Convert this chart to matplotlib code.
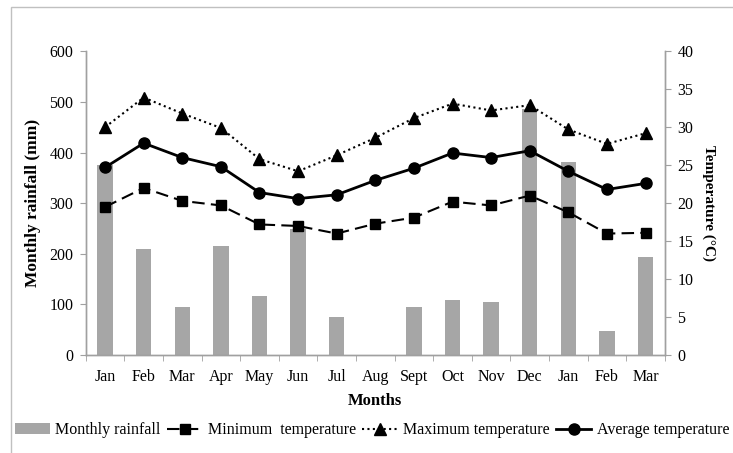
import numpy as np
import matplotlib
matplotlib.use("Agg")
import matplotlib.pyplot as plt
from matplotlib.patches import Rectangle

months = ["Jan", "Feb", "Mar", "Apr", "May", "Jun", "Jul", "Aug",
          "Sept", "Oct", "Nov", "Dec", "Jan", "Feb", "Mar"]
rainfall = [376, 209, 95, 216, 116, 250, 75, 0, 95, 109, 105, 485, 382, 47, 193]
t_min = [19.5, 22.0, 20.3, 19.7, 17.2, 17.0, 16.0, 17.3, 18.1, 20.2, 19.7, 21.0, 18.8, 16.0, 16.1]
t_max = [30.0, 33.9, 31.8, 29.9, 25.8, 24.2, 26.3, 28.6, 31.2, 33.1, 32.2, 32.9, 29.7, 27.8, 29.2]
t_avg = [24.7, 27.9, 26.0, 24.8, 21.4, 20.6, 21.1, 23.0, 24.6, 26.6, 26.0, 26.9, 24.2, 21.8, 22.6]

plt.rcParams["font.family"] = ["Liberation Serif", "DejaVu Serif"]

GRAY = "#a6a6a6"
SPINE = "#a0a0a0"

fig = plt.figure(figsize=(7.33, 4.53), dpi=100)
ax = fig.add_axes([0.117, 0.216, 0.790, 0.671])
ax2 = ax.twinx()

x = np.arange(len(months))
bars = ax.bar(x, rainfall, width=0.4, color=GRAY, label="Monthly rainfall", zorder=1)

l_min, = ax2.plot(x, t_min, color="black", lw=1.5, dashes=(6, 3), marker="s",
                  markersize=7.5, label="Minimum  temperature")
l_max, = ax2.plot(x, t_max, color="black", lw=1.5, linestyle=(0, (1, 1.6)), marker="^",
                  markersize=8, label="Maximum temperature")
l_avg, = ax2.plot(x, t_avg, color="black", lw=2, marker="o",
                  markersize=8, label="Average temperature")

ax.set_xlim(-0.5, len(months) - 0.5)
ax.set_ylim(0, 600)
ax.set_yticks(np.arange(0, 601, 100))
ax2.set_ylim(0, 40)
ax2.set_yticks(np.arange(0, 41, 5))

ax.set_xticks(x)
ax.set_xticklabels(months)
ax.set_xticks(np.arange(-0.5, len(months), 1), minor=True)
ax.tick_params(axis="x", which="major", length=0, pad=10, labelsize=11.5)
ax.tick_params(axis="x", which="minor", length=4, color=SPINE, direction="out")
ax.tick_params(axis="y", length=4, color=SPINE, labelsize=11.5, pad=5)
ax2.tick_params(axis="y", length=4, color=SPINE, labelsize=11.5, pad=5)

for a in (ax, ax2):
    a.spines["top"].set_visible(False)
    for s in ("left", "right", "bottom"):
        a.spines[s].set_color(SPINE)
        a.spines[s].set_linewidth(1)

ax.set_ylabel("Monthly rainfall (mm)", fontweight="bold", fontsize=12.5, labelpad=6)
ax2.set_ylabel("Temperature (\u00b0C)", fontweight="bold", fontsize=11,
               rotation=-90, labelpad=16)
ax.set_xlabel("Months", fontweight="bold", fontsize=12, labelpad=6)

handles = [bars, l_min, l_max, l_avg]
fig.legend(handles, [h.get_label() for h in handles], loc="center left",
           bbox_to_anchor=(0.02, 0.05), ncol=4, frameon=False, fontsize=11.5,
           handlelength=2.2, handletextpad=0.35, columnspacing=0.4,
           borderaxespad=0, borderpad=0)

fig.patches.append(Rectangle((11 / 733, -0.5), 1.0, 1.5 - 7 / 453,
                             transform=fig.transFigure, fill=False,
                             edgecolor="#c0c0c0", lw=1))

fig.savefig("out.png", dpi=100)
